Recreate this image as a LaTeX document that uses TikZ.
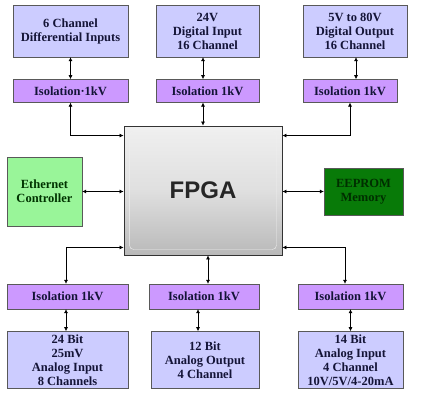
\documentclass[tikz,border=0pt]{standalone}
\usepackage{fontspec}
\setmainfont{Liberation Serif}
\newfontfamily\chipfont{Liberation Sans}
\usepackage{xcolor}
\usetikzlibrary{arrows.meta,positioning,calc}

\definecolor{ioblue}{RGB}{204,204,255}
\definecolor{isoviolet}{RGB}{204,153,255}
\definecolor{ethgreen}{RGB}{153,245,153}
\definecolor{romgreen}{RGB}{8,122,8}
\definecolor{inktext}{RGB}{20,20,55}

\begin{document}
\begin{tikzpicture}[
    x=1pt, y=-1pt,
    node distance=22pt,
    box/.style={rectangle, draw=gray!70!black, fill=ioblue, inner sep=0pt, align=center,
        text=inktext, font=\fontsize{12.5}{14}\selectfont\bfseries},
    iso/.style={box, fill=isoviolet, minimum height=24pt},
    arrow/.style={{Latex[length=4pt,width=4pt]}-{Latex[length=4pt,width=4pt]}, semithick}
]
\useasboundingbox (0,0) rectangle (422,401);

% FPGA
\node[rectangle, draw=gray!40!black, line width=0.9pt, minimum width=158pt, minimum height=129pt,
    top color=gray!12, bottom color=gray!55, middle color=gray!25] (fpga) at (203,190.5) {};
\draw[white!88!gray, rounded corners=4pt] ($(fpga.north west)+(6,6)$) rectangle ($(fpga.south east)+(-6,-6)$);
\node[font=\chipfont\fontsize{24}{26}\selectfont\bfseries, text=black!85] at (fpga.center) {FPGA};

% Top inputs
\node[box, minimum width=115pt, minimum height=52pt] (din) at (70.5,31) {6 Channel\\Differential Inputs};
\node[box, minimum width=103pt, minimum height=52pt] (dig) at (207.5,31) {24V\\Digital Input\\16 Channel};
\node[box, minimum width=104pt, minimum height=52pt] (dout) at (355,31) {5V to 80V\\Digital Output\\16 Channel};

% Top isolation
\node[iso, minimum width=115pt, minimum height=23pt, below=of din] (isoa) {Isolation·1kV};
\node[iso, minimum width=103pt, minimum height=23pt, below=of dig] (isob) {Isolation 1kV};
\node[iso, minimum width=94pt, minimum height=23pt, below=of dout, xshift=-5pt] (isoc) {Isolation 1kV};

% Side blocks
\node[box, fill=ethgreen, text=green!20!black, minimum width=75pt, minimum height=69pt] (eth) at (44.5,191.5) {Ethernet\\Controller};
\node[box, fill=romgreen, text=green!18!black, minimum width=79pt, minimum height=47pt] (rom) at (363.5,191.5) {EEPROM\\Memory};

% Bottom isolation
\node[iso, minimum width=121pt, minimum height=25pt] (isod) at (67.5,296.5) {Isolation 1kV};
\node[iso, minimum width=110pt, minimum height=25pt] (isoe) at (204,296.5) {Isolation 1kV};
\node[iso, minimum width=105pt, minimum height=25pt] (isof) at (350.5,296.5) {Isolation 1kV};

% Bottom analog blocks
\node[box, minimum width=121pt, minimum height=57pt, below=of isod] (ain) {24 Bit\\25mV\\Analog Input\\8 Channels};
\node[box, minimum width=108pt, minimum height=57pt, below=of isoe, xshift=1pt] (aout) {12 Bit\\Analog Output\\4 Channel};
\node[box, minimum width=105pt, minimum height=57pt, below=of isof] (ain14) {14 Bit\\Analog Input\\4 Channel\\10V/5V/4-20mA};

% Arrows
\draw[arrow] (din.south) -- (isoa.north);
\draw[arrow] ([xshift=-4.5pt]dig.south) -- ([xshift=-4.5pt]isob.north);
\draw[arrow] ([xshift=1pt]dout.south) -- ([xshift=1pt]dout.south |- isoc.north);
\draw[arrow] (isoa.south) |- ([yshift=-10pt]fpga.north west);
\draw[arrow] ([xshift=-4.5pt]isob.south) -- ([xshift=-4.5pt]isob.south |- fpga.north);
\draw[arrow] (isoc.south) |- ([yshift=-10pt]fpga.north east);
\draw[arrow] (eth) -- (fpga.west |- eth.east);
\draw[arrow] (fpga.east |- rom.west) -- (rom);
\draw[arrow] ([yshift=8pt]fpga.south west) -| ([xshift=-1.5pt]isod.north);
\draw[arrow] ([xshift=4pt]isoe.north |- fpga.south) -- ([xshift=4pt]isoe.north);
\draw[arrow] ([yshift=8pt]fpga.south east) -| ([xshift=-5.5pt]isof.north);
\draw[arrow] ([xshift=-1.5pt]isod.south) -- ([xshift=-1.5pt]ain.north);
\draw[arrow] ([xshift=-6pt]isoe.south) -- ([xshift=-6pt]isoe.south |- aout.north);
\draw[arrow] (isof.south) -- (ain14.north);

\end{tikzpicture}
\end{document}
